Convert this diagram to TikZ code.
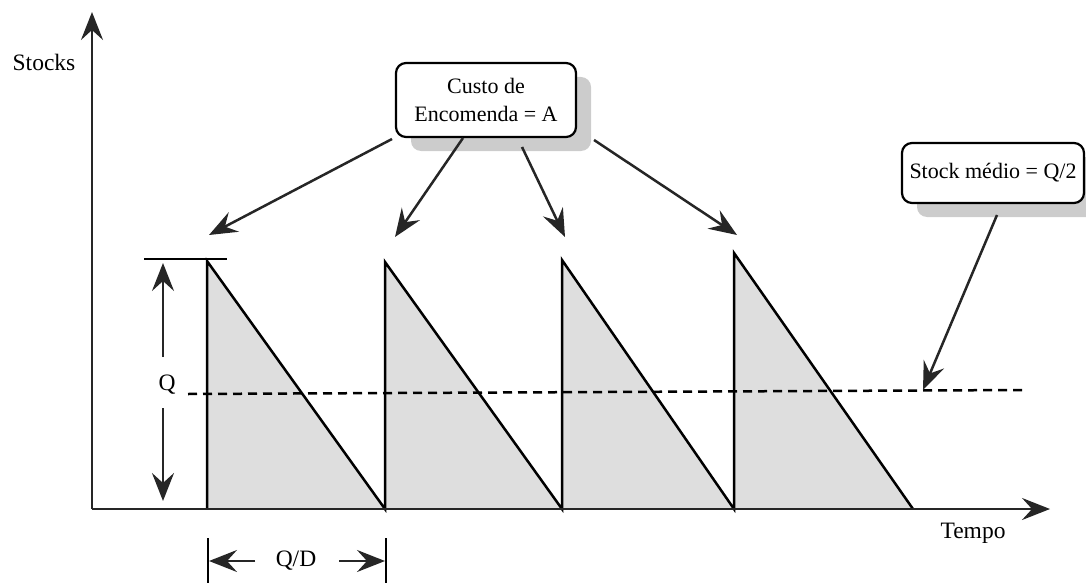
\documentclass[tikz,border=0pt]{standalone}
\usepackage{fontspec}
\setmainfont{Liberation Serif}
\usetikzlibrary{arrows.meta,shadows}
\begin{document}
\begin{tikzpicture}[x=1pt,y=-1pt,line width=2.5pt,
  tip/.style={-{Stealth[length=28pt,width=22pt,inset=10pt]}, draw=black!85, fill=black!75},
  lbl/.style={font=\fontsize{23.5}{27}\selectfont, inner sep=0pt},
  callout/.style={draw, line width=2.2pt, rounded corners=10pt, fill=white, align=center,
    font=\fontsize{22}{28}\selectfont,
    drop shadow={shadow xshift=15pt, shadow yshift=-14pt, fill=black!20, opacity=1}},
  saw/.style={fill=black!13, draw=none},
  avg/.style={dashed, dash pattern=on 9pt off 6pt}
]
\useasboundingbox (0,0) rectangle (1086,583);

% axes
\coordinate (O) at (92,509);
\coordinate (ytop) at (92,12);
\coordinate (xend) at (1050,509);

% stock cycles (sawtooth)
\coordinate (a0) at (207,509); \coordinate (a1) at (207,261);
\coordinate (b0) at (385,509); \coordinate (b1) at (385,262);
\coordinate (c0) at (562,509); \coordinate (c1) at (562,260);
\coordinate (d0) at (734,509); \coordinate (d1) at (734,253);
\coordinate (e0) at (913,509);

\fill[saw] (a0) -- (a1) -- (b0) -- cycle;
\fill[saw] (b0) -- (b1) -- (c0) -- cycle;
\fill[saw] (c0) -- (c1) -- (d0) -- cycle;
\fill[saw] (d0) -- (d1) -- (e0) -- cycle;
\draw (a0) -- (a1) -- (b0) -- (b1) -- (c0) -- (c1) -- (d0) -- (d1) -- (e0);

\draw[tip] (O) -- (ytop);
\draw[tip] (O) -- (xend);

\node[lbl] (stocks) at (44,62) {Stocks};
\node[lbl] (tempo) at (973,533) {Tempo};

% average stock
\coordinate (m0) at (188,394);
\coordinate (m1) at (1025,390);
\draw[avg] (m0) -- (m1);

% Q dimension
\coordinate (qtopbar0) at (144,259);
\coordinate (qtopbar1) at (227,259);
\draw (qtopbar0) -- (qtopbar1);
\node[lbl] (Q) at (167,385) {Q};
\coordinate (q1) at (163,357);
\coordinate (q2) at (163,263);
\coordinate (q3) at (163,408);
\coordinate (q4) at (163,501);
\draw[tip] (q1) -- (q2);
\draw[tip] (q3) -- (q4);

% Q/D dimension
\coordinate (t1a) at (208,538); \coordinate (t1b) at (208,583);
\coordinate (t2a) at (386,538); \coordinate (t2b) at (386,583);
\draw (t1a) -- (t1b);
\draw (t2a) -- (t2b);
\node[lbl] (QD) at (296,561) {Q/D};
\coordinate (qd1) at (255,561); \coordinate (qd2) at (209,561);
\coordinate (qd3) at (339,561); \coordinate (qd4) at (385,561);
\draw[tip] (qd1) -- (qd2);
\draw[tip] (qd3) -- (qd4);

% callouts
\node[callout, minimum width=180pt, minimum height=74pt] (custo) at (486,100)
  {Custo de\\Encomenda = A};
\node[callout, minimum width=182pt, minimum height=60pt] (medio) at (993,173)
  {Stock médio = Q/2};

\coordinate (r1) at (209,235);
\coordinate (r2) at (395,237);
\coordinate (r3) at (565,237);
\coordinate (r4) at (737,235);
\coordinate (rm) at (923,390);

\coordinate (s1) at (392,139);
\coordinate (s2) at (463,138);
\coordinate (s3) at (522,147);
\coordinate (s4) at (594,140);
\coordinate (sm) at (997,215);

\draw[tip] (s1) -- (r1);
\draw[tip] (s2) -- (r2);
\draw[tip] (s3) -- (r3);
\draw[tip] (s4) -- (r4);
\draw[tip] (sm) -- (rm);
\end{tikzpicture}
\end{document}
